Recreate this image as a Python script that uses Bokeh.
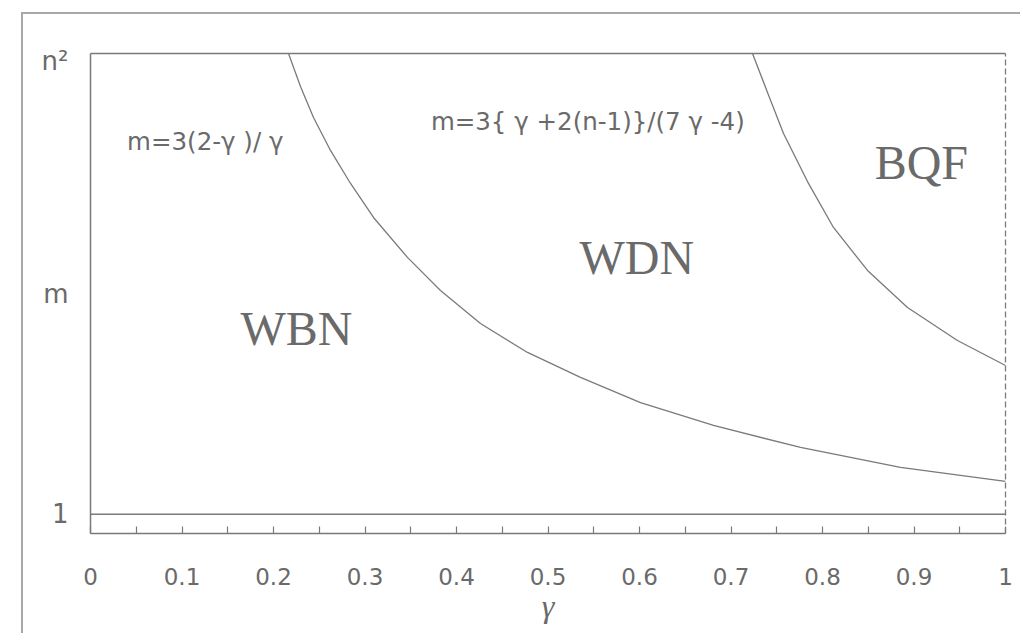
from bokeh.plotting import figure
from bokeh.models import Range1d, FixedTicker, LinearAxis, Span
from bokeh.layouts import column
from bokeh.core.properties import value
from bokeh.embed import file_html
from bokeh.resources import INLINE

# ---- data ----
gamma_wbn = [0.2164, 0.2295, 0.2437, 0.2623, 0.2842, 0.3093, 0.3464, 0.3825,
             0.4262, 0.4776, 0.5355, 0.6011, 0.6809, 0.7760, 0.8852, 1.0]
m_wbn = [25.0, 23.28, 21.67, 19.95, 18.23, 16.46, 14.38, 12.66,
         10.94, 9.43, 8.13, 6.82, 5.63, 4.48, 3.44, 2.71]

gamma_bqf = [0.7235, 0.7399, 0.7574, 0.7836, 0.8120, 0.8492, 0.8929, 0.9475, 1.0]
m_bqf = [25.0, 22.97, 20.83, 18.33, 15.94, 13.70, 11.77, 10.05, 8.75]

x_ticks = [0, 0.1, 0.2, 0.3, 0.4, 0.5, 0.6, 0.7, 0.8, 0.9, 1]
x_tick_labels = ["0", "0.1", "0.2", "0.3", "0.4", "0.5", "0.6", "0.7", "0.8", "0.9", "1"]
x_minor_ticks = [0.05, 0.15, 0.25, 0.35, 0.45, 0.55, 0.65, 0.75, 0.85, 0.95]

y_ticks = [1, 12.45, 24.6]
y_tick_labels = ["1", "m", "n\u00b2"]
m_line = 1

region_labels = ["WBN", "WDN", "BQF"]
region_x = [0.225, 0.597, 0.908]
region_y = [10.7, 14.4, 19.3]

formula_labels = ["m=3(2-\u03b3 )/ \u03b3", "m=3{ \u03b3 +2(n-1)}/(7 \u03b3 -4)"]
formula_x = [0.040, 0.372]
formula_y = [20.4, 21.46]

GREY_LINE = "#7a7a7a"
GREY_TEXT = "#6a6a6a"

p = figure(frame_width=915, frame_height=480,
           x_range=Range1d(0, 1), y_range=Range1d(0, 25),
           output_backend="svg", toolbar_location=None,
           min_border_left=67, min_border_right=15,
           min_border_top=39, min_border_bottom=100)
p.outline_line_color = None
p.grid.visible = False
p.background_fill_color = "white"
p.border_fill_color = "white"

xa = p.xaxis[0]
xa.ticker = FixedTicker(ticks=x_ticks, minor_ticks=x_minor_ticks)
xa.major_label_overrides = dict(zip(x_ticks, x_tick_labels))
xa.axis_line_color = GREY_LINE
xa.axis_line_width = 1.5
xa.major_tick_in = 7
xa.major_tick_out = 0
xa.minor_tick_in = 7
xa.minor_tick_out = 0
xa.major_tick_line_color = GREY_LINE
xa.minor_tick_line_color = GREY_LINE
xa.major_tick_line_width = 1.2
xa.minor_tick_line_width = 1.2
xa.major_label_text_font = "DejaVu Sans"
xa.major_label_text_font_size = "23px"
xa.major_label_text_color = GREY_TEXT
xa.major_label_standoff = 34
xa.axis_label = "\u03b3"
xa.axis_label_text_font = "Liberation Serif"
xa.axis_label_text_font_style = "italic"
xa.axis_label_text_font_size = "32px"
xa.axis_label_text_color = GREY_TEXT
xa.axis_label_standoff = 0

ya = p.yaxis[0]
ya.ticker = FixedTicker(ticks=y_ticks, minor_ticks=[])
ya.major_label_overrides = dict(zip(y_ticks, y_tick_labels))
ya.axis_line_color = GREY_LINE
ya.axis_line_width = 1.5
ya.major_tick_line_color = None
ya.minor_tick_line_color = None
ya.major_tick_in = 0
ya.major_tick_out = 0
ya.major_label_text_font = "DejaVu Sans"
ya.major_label_text_font_size = "26px"
ya.major_label_text_color = GREY_TEXT
ya.major_label_standoff = 22

top_ax = LinearAxis(ticker=FixedTicker(ticks=[]), axis_line_color=GREY_LINE,
                    axis_line_width=1.5, major_tick_line_color=None,
                    minor_tick_line_color=None, major_label_text_font_size="0px")
p.add_layout(top_ax, "above")
right_ax = LinearAxis(ticker=FixedTicker(ticks=[]), axis_line_color=GREY_LINE,
                      axis_line_width=1.3, axis_line_dash="6 3",
                      major_tick_line_color=None, minor_tick_line_color=None,
                      major_label_text_font_size="0px")
p.add_layout(right_ax, "right")

p.add_layout(Span(location=m_line, dimension="width", line_color=GREY_LINE, line_width=1.5))

p.line(gamma_wbn, m_wbn, line_color=GREY_LINE, line_width=1.3)
p.line(gamma_bqf, m_bqf, line_color=GREY_LINE, line_width=1.3)

p.text(x=region_x, y=region_y, text=region_labels,
       text_font=value("Liberation Serif"), text_font_size="48px",
       text_color=GREY_TEXT, text_align="center", text_baseline="alphabetic")
p.text(x=formula_x, y=formula_y, text=formula_labels,
       text_font=value("DejaVu Sans"), text_font_size="24.5px",
       text_color=GREY_TEXT, text_align="left", text_baseline="middle")

layout = column(p, margin=(12, 0, 0, 21),
                styles={"border-left": "2px solid #a8a8a8",
                        "border-top": "2px solid #a8a8a8"})

open("out.html", "w").write(file_html(layout, INLINE))
